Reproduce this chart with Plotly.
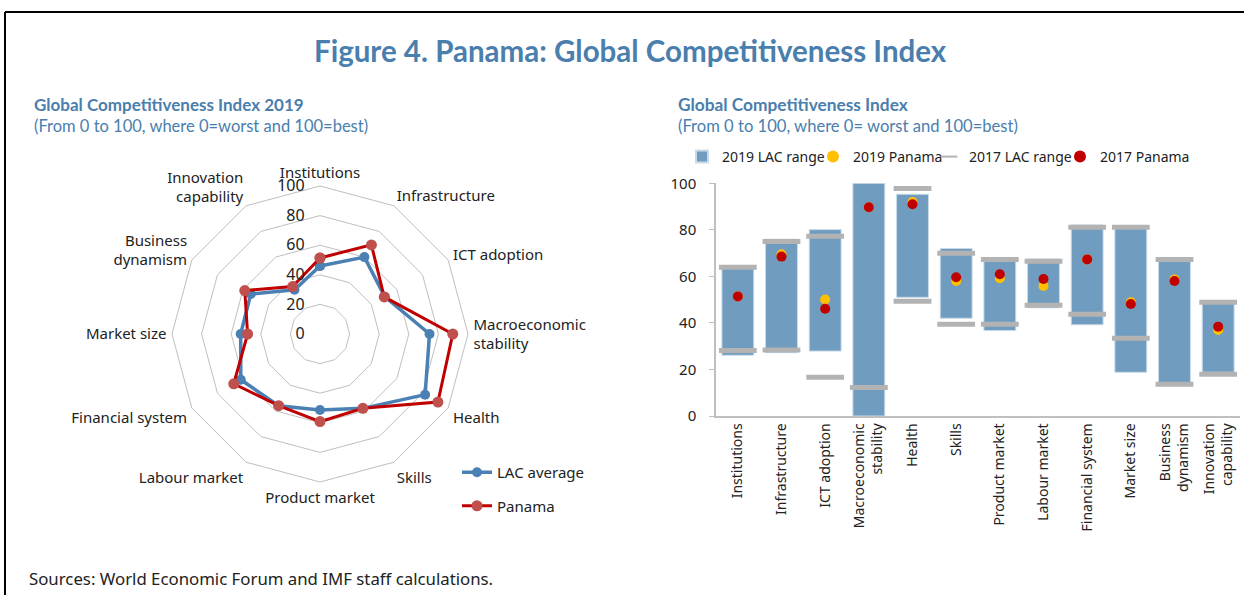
import plotly.graph_objects as go

# ---------------- data ----------------
categories = ["Institutions", "Infrastructure", "ICT adoption", "Macroeconomic stability",
              "Health", "Skills", "Product market", "Labour market", "Financial system",
              "Market size", "Business dynamism", "Innovation capability"]
radar_labels = ["Institutions", "Infrastructure", "ICT adoption", "Macroeconomic<br>stability",
                "Health", "Skills", "Product market", "Labour market", "Financial system",
                "Market size", "Business<br>dynamism", "Innovation<br>capability"]
bar_labels = ["Institutions", "Infrastructure", "ICT adoption", "Macroeconomic<br>stability",
              "Health", "Skills", "Product market", "Labour market", "Financial system",
              "Market size", "Business<br>dynamism", "Innovation<br>capability"]

lac_average = [46.0, 60.0, 50.5, 74.0, 82.0, 58.0, 51.4, 56.0, 61.8, 53.6, 54.0, 34.5]
panama_2019 = [51.4, 69.5, 50.1, 89.7, 92.0, 58.0, 59.2, 55.9, 67.3, 48.9, 58.7, 37.0]
panama_2017 = [51.4, 68.5, 46.1, 89.7, 91.0, 59.6, 60.9, 58.9, 67.3, 48.1, 58.0, 38.4]
lac_2019_min = [26.1, 27.2, 27.9, 0.0, 51.0, 42.0, 36.7, 46.5, 39.2, 18.8, 14.0, 18.8]
lac_2019_max = [64.2, 76.0, 80.1, 100.0, 95.3, 72.0, 68.0, 67.5, 82.1, 81.2, 68.0, 49.0]
lac_2017_min = [28.2, 28.4, 16.6, 12.3, 49.3, 39.4, 39.4, 47.6, 43.7, 33.4, 13.6, 17.9]
lac_2017_max = [63.9, 75.0, 77.2, 100.4, 97.8, 69.9, 67.3, 66.5, 81.1, 81.1, 67.3, 48.9]
radial_ticks = [0, 20, 40, 60, 80, 100]
bar_ticks = [0, 20, 40, 60, 80, 100]

# ---------------- styles ----------------
W, H = 1244, 595
BLUE_T = "#4a7ead"
FONT = "Noto Sans"
TXT = "#222222"
GRID = "#bfbfbf"
NB = "\u00a0"


def px(x):
    return x / W


def py(y):
    return 1 - y / H


fig = go.Figure()

# radar chart
theta_closed = radar_labels + radar_labels[:1]
fig.add_trace(go.Scatterpolar(
    r=lac_average + lac_average[:1], theta=theta_closed, mode="lines+markers",
    name="LAC average", line=dict(color="#4a80b4", width=3.5),
    marker=dict(size=10, color="#4a80b4"), legend="legend2", legendgroup="a"))
fig.add_trace(go.Scatterpolar(
    r=panama_2019 + panama_2019[:1], theta=theta_closed, mode="lines+markers",
    name="Panama", line=dict(color="#c00000", width=3),
    marker=dict(size=11, color="#c0504d"), legend="legend2", legendgroup="b"))

# range chart
fig.add_trace(go.Bar(
    x=bar_labels, y=[a - b for a, b in zip(lac_2019_max, lac_2019_min)], base=lac_2019_min,
    name="2019 LAC range", width=0.73,
    marker=dict(color="#6f9cbf", line=dict(color="#c9dbea", width=1)),
    xaxis="x", yaxis="y", legend="legend"))
fig.add_trace(go.Scatter(
    x=bar_labels, y=panama_2019, mode="markers", name="2019 Panama",
    marker=dict(size=10, color="#ffc000"), cliponaxis=False, legend="legend"))
fig.add_trace(go.Scatter(
    x=bar_labels + bar_labels, y=lac_2017_min + lac_2017_max, mode="markers",
    name="2017 LAC range",
    marker=dict(symbol="line-ew", size=27, color="#b3b3b3",
                line=dict(color="#b3b3b3", width=5)), cliponaxis=False, legend="legend3"))
fig.add_trace(go.Scatter(
    x=bar_labels, y=panama_2017, mode="markers", name="2017 Panama",
    marker=dict(size=10, color="#c00000"), cliponaxis=False, legend="legend3"))

R = 148
cx, cy = 320, 334
leg_common = dict(orientation="h", y=py(157), xanchor="left", yanchor="middle",
                  font=dict(size=14, color=TXT), bgcolor="rgba(0,0,0,0)",
                  entrywidth=86, entrywidthmode="pixels", itemsizing="constant",
                  traceorder="normal", itemclick=False)
fig.update_layout(
    width=W, height=H, margin=dict(l=0, r=0, t=0, b=0, pad=0, autoexpand=False),
    paper_bgcolor="white", plot_bgcolor="white",
    font=dict(family=FONT, color=TXT, size=14),
    showlegend=True,
    polar=dict(
        domain=dict(x=[px(cx - R), px(cx + R)], y=[py(cy + R), py(cy - R)]),
        gridshape="linear", bgcolor="white",
        radialaxis=dict(range=[0, 100], tickvals=radial_ticks,
                        ticktext=[f"{v}{NB}{NB}{NB}" for v in radial_ticks],
                        showline=False, gridcolor=GRID, gridwidth=1, angle=90, tickangle=90,
                        side="counterclockwise", ticks="",
                        tickfont=dict(size=16, color=TXT)),
        angularaxis=dict(direction="clockwise", rotation=90, showgrid=False,
                         linecolor=GRID, linewidth=1, ticks="outside", ticklen=2,
                         tickcolor="rgba(0,0,0,0)",
                         tickfont=dict(size=15, color=TXT)),
    ),
    xaxis=dict(domain=[px(716), px(1240)], type="category", range=[-0.5, 11.5],
               tickangle=-90, automargin=False,
               showline=True, linecolor=GRID, linewidth=1.5, ticks="",
               tickfont=dict(size=14, color=TXT), showgrid=False, fixedrange=True),
    yaxis=dict(domain=[py(416), py(183.3)], range=[0, 100], tickvals=bar_ticks,
               automargin=False,
               showline=True, linecolor=GRID, linewidth=1.5, ticks="outside",
               ticklen=5, tickcolor=GRID, showgrid=False, zeroline=False,
               tickfont=dict(size=15, color=TXT), ticklabelstandoff=10),
    legend=dict(x=px(682), **leg_common),
    legend3=dict(x=px(929), **leg_common),
    legend2=dict(orientation="v", x=px(457), y=py(456), xanchor="left", yanchor="top",
                 font=dict(size=15, color=TXT), bgcolor="rgba(0,0,0,0)",
                 tracegroupgap=11, itemclick=False),
)

# frame lines (top and left)
fig.add_shape(type="line", xref="paper", yref="paper", x0=px(5), x1=1, y0=py(12), y1=py(12),
              line=dict(color="black", width=2))
fig.add_shape(type="line", xref="paper", yref="paper", x0=px(5), x1=px(5), y0=py(12), y1=0,
              line=dict(color="black", width=2))

ann = [
    dict(text="<b>Figure 4. Panama: Global Competitiveness Index</b>", x=px(630), y=py(50),
         xanchor="center", font=dict(family="Lato", size=29.5, color=BLUE_T)),
    dict(text="<b>Global Competitiveness Index 2019</b>", x=px(32), y=py(104),
         xanchor="left", font=dict(family="Lato", size=17, color=BLUE_T)),
    dict(text="(From 0 to 100, where 0=worst and 100=best)", x=px(32), y=py(126),
         xanchor="left", font=dict(family="Lato", size=16.5, color=BLUE_T)),
    dict(text="<b>Global Competitiveness Index</b>", x=px(676), y=py(104),
         xanchor="left", font=dict(family="Lato", size=17.3, color=BLUE_T)),
    dict(text="(From 0 to 100, where 0= worst and 100=best)", x=px(676), y=py(126),
         xanchor="left", font=dict(family="Lato", size=16.6, color=BLUE_T)),
    dict(text="Sources: World Economic Forum and IMF staff calculations.", x=px(27), y=py(578),
         xanchor="left", font=dict(family=FONT, size=16.8, color=TXT)),
]
for a in ann:
    fig.add_annotation(xref="paper", yref="paper", showarrow=False, yanchor="middle", **a)

fig.write_html("out.html", config={"displayModeBar": False},
               post_script="document.body.style.margin='0px';")
